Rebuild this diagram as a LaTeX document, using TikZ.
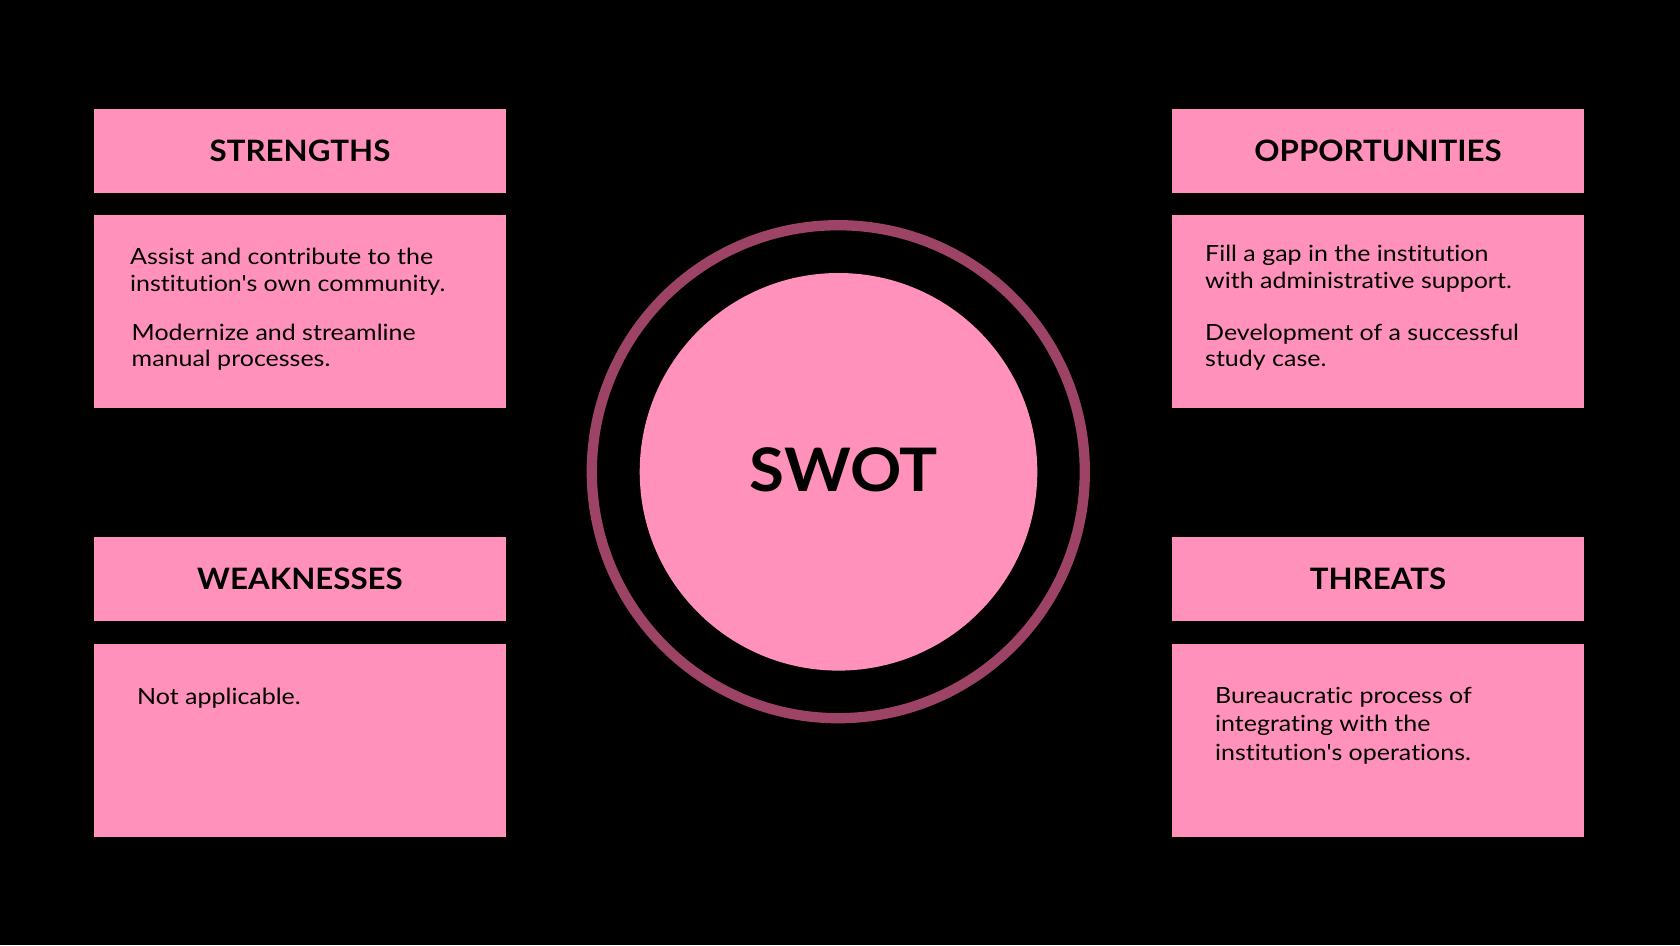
\documentclass[tikz,border=0pt]{standalone}
\usepackage{fontspec}
\setmainfont{Lato}
\newfontfamily\bodyfont{Lato}[FakeStretch=1.12, Ligatures={NoCommon,TeXOff}]
\newfontfamily\headfont{Lato}[FakeStretch=1.06, Ligatures={NoCommon,TeXOff}]
\definecolor{swotpink}{HTML}{FF91BB}
\definecolor{swotring}{HTML}{9C4366}
\begin{document}
\begin{tikzpicture}[x=1pt,y=-1pt,
  panel/.style={rectangle, fill=swotpink, draw=none, inner sep=0pt,
                minimum width=412pt},
  headpanel/.style={panel, minimum height=84pt,
                font=\headfont\fontsize{29.5}{32}\selectfont\bfseries, text=black},
  bodypanel/.style={panel, minimum height=193pt},
  % text nodes are anchored at the baseline of their last line
  body/.style={inner sep=0pt, anchor=base west, align=left, text=black,
                font=\bodyfont\fontsize{22.3}{26.5}\selectfont}]
% page background
\fill[black] (0,0) rectangle (1680,945);
\useasboundingbox (0,0) rectangle (1680,945);

% quadrant panels
\node[headpanel] (sHead) at (300,151) {STRENGTHS};
\node[bodypanel] (sBody) at (300,311.5) {};
\node[headpanel] (oHead) at (1378,151) {OPPORTUNITIES};
\node[bodypanel] (oBody) at (1378,311.5) {};
\node[headpanel] (wHead) at (300,579) {WEAKNESSES};
\node[bodypanel] (wBody) at (300,740) {};
\node[headpanel] (tHead) at (1378,579) {THREATS};
\node[bodypanel] (tBody) at (1378,740) {};

% panel texts
\node[body] (s1) at (130,291) {Assist and contribute to the\\institution's own community.};
\node[body] (s2) at (131.5,366.7) {Modernize and streamline\\manual processes.};
\node[body] (o1) at (1205,288.3) {Fill a gap in the institution\\with administrative support.};
\node[body] (o2) at (1205,366.7) {Development of a successful\\study case.};
\node[body] (w1) at (137,704) {Not applicable.};
\node[body, font=\bodyfont\fontsize{22.3}{28.3}\selectfont] (t1) at (1215,760)
  {Bureaucratic process of\\integrating with the\\institution's operations.};

% central emblem
\node[circle, draw=swotring, line width=10.3pt, minimum size=493pt, inner sep=0pt] (ring) at (838.3,471.7) {};
\node[circle, fill=swotpink, minimum size=397.6pt, inner sep=0pt] (core) at (838.5,471.8) {};
\node[inner sep=0pt, anchor=base, font=\headfont\fontsize{60}{62}\selectfont\bfseries] (swot) at (843.7,491) {SWOT};
\end{tikzpicture}
\end{document}
